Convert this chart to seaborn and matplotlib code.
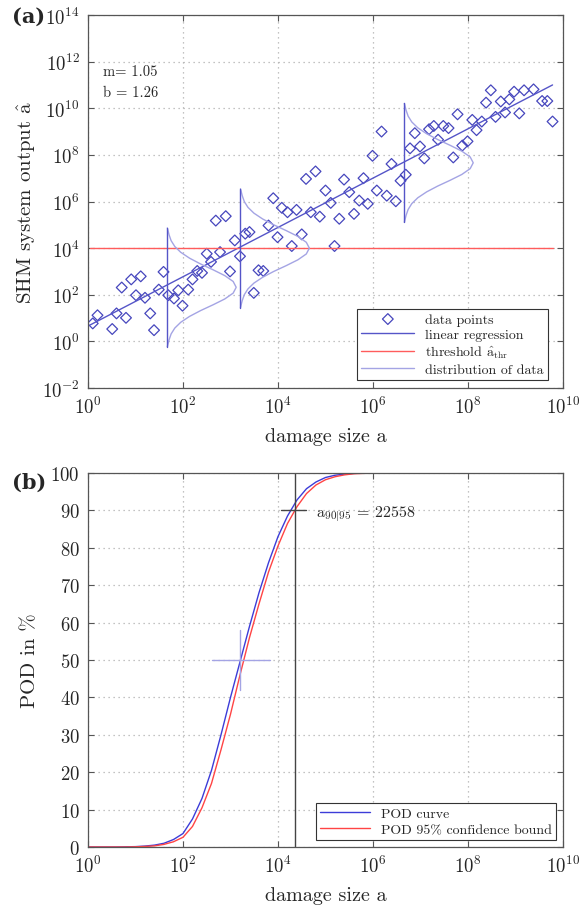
import numpy as np
import pandas as pd
import matplotlib
matplotlib.use('Agg')
import matplotlib.pyplot as plt
import seaborn as sns

# ---- data (log10 values) ----
log_a = [0.10, 0.20, 0.51, 0.60, 0.71, 0.80, 0.91, 1.01, 1.11, 1.20,
         1.31, 1.39, 1.49, 1.59, 1.69, 1.81, 1.90, 1.99, 2.11, 2.20,
         2.30, 2.40, 2.50, 2.59, 2.69, 2.78, 2.90, 2.99, 3.09, 3.20,
         3.31, 3.40, 3.49, 3.59, 3.69, 3.80, 3.90, 3.99, 4.08, 4.20,
         4.29, 4.39, 4.50, 4.59, 4.69, 4.79, 4.88, 5.00, 5.11, 5.19,
         5.29, 5.39, 5.50, 5.60, 5.71, 5.80, 5.89, 5.99, 6.08, 6.18,
         6.29, 6.39, 6.48, 6.58, 6.69, 6.78, 6.88, 6.99, 7.08, 7.18,
         7.28, 7.37, 7.48, 7.59, 7.69, 7.78, 7.88, 7.99, 8.09, 8.18,
         8.29, 8.38, 8.48, 8.58, 8.69, 8.78, 8.87, 8.97, 9.08, 9.18,
         9.38, 9.56, 9.67, 9.78]
log_ahat = [0.77, 1.12, 0.53, 1.20, 2.31, 1.01, 2.66, 1.98, 2.79, 1.87,
            1.20, 0.48, 2.22, 2.98, 1.98, 1.84, 2.19, 1.53, 2.22, 2.66,
            3.02, 2.94, 3.76, 3.41, 5.18, 3.83, 5.37, 3.00, 4.33, 3.65,
            4.62, 4.69, 2.08, 3.05, 3.02, 4.97, 6.14, 4.47, 5.73, 5.54,
            4.09, 5.64, 4.59, 6.97, 5.54, 7.29, 5.35, 6.47, 5.94, 4.09,
            5.26, 6.94, 6.40, 5.47, 6.04, 7.00, 5.90, 7.96, 6.47, 9.00,
            6.25, 7.61, 6.01, 6.89, 7.15, 8.28, 8.93, 8.36, 7.85, 9.10,
            9.24, 8.65, 9.24, 9.15, 7.89, 9.74, 8.40, 8.58, 9.50, 9.06,
            9.43, 10.24, 10.77, 9.63, 10.29, 9.82, 10.38, 10.71, 9.78, 10.77,
            10.81, 10.31, 10.31, 9.43]

reg_log_a = [0.04, 9.78]
reg_log_ahat = [0.70, 11.00]
thr_log_ahat = 4.0

# distribution of data: three centres and one shared bell shape
dist_log_a = [1.67, 3.21, 6.66]
dist_log_mean = [2.32, 4.00, 7.66]
dist_dy = [-2.55, -2.25, -2.0, -1.75, -1.5, -1.25, -1.0, -0.75, -0.5, -0.25, 0.0,
           0.25, 0.5, 0.75, 1.0, 1.25, 1.5, 1.75, 2.0, 2.25, 2.55]
dist_w = [0.0, 0.037, 0.080, 0.157, 0.283, 0.467, 0.70, 0.964, 1.21, 1.386, 1.45,
          1.386, 1.21, 0.964, 0.70, 0.467, 0.283, 0.157, 0.080, 0.037, 0.0]

# POD curves
pod_log_a = [0.0, 0.2, 0.4, 0.6, 0.8, 1.0, 1.2, 1.4, 1.6, 1.8, 2.0, 2.2, 2.4, 2.6,
             2.8, 3.0, 3.2, 3.4, 3.6, 3.8, 4.0, 4.2, 4.4, 4.6, 4.8, 5.0, 5.2,
             5.4, 5.6, 5.8, 6.0, 6.4, 6.8, 7.2]
pod_curve = [0.0, 0.0, 0.0, 0.0, 0.05, 0.1, 0.25, 0.5, 1.0, 2.0, 3.6, 7.5, 13.0, 20.5,
             30.0, 40.0, 49.5, 59.0, 68.0, 76.0, 83.0, 88.5, 92.8, 95.8, 97.6, 98.8, 99.4,
             99.7, 99.9, 99.95, 100.0, 100.0, 100.0, 100.0]
pod_bound = [0.0, 0.0, 0.0, 0.0, 0.0, 0.05, 0.15, 0.3, 0.7, 1.4, 2.6, 5.5, 10.5, 17.0,
             26.0, 35.5, 46.0, 56.0, 65.0, 73.5, 80.5, 86.5, 91.0, 94.5, 96.8, 98.2, 99.0,
             99.5, 99.8, 99.9, 100.0, 100.0, 100.0, 100.0]
a50_log = 3.21
a50_bar = [2.60, 3.83]
a50_vbar = [42, 58]
a9095 = 22558
a9095_bar = [4.06, 4.59]

# ---- style ----
sns.set_style('ticks')
plt.rcParams['font.family'] = ['cmr10', 'DejaVu Serif']
plt.rcParams['mathtext.fontset'] = 'cm'
plt.rcParams['axes.formatter.use_mathtext'] = True
plt.rcParams['axes.unicode_minus'] = False

c_pts = '#4646bd'
c_reg = '#5555c8'
c_thr = '#ff5c5c'
c_dist = '#a4a4e4'
c_pod = '#3c3cd8'
c_bnd = '#ff4444'

fig = plt.figure(figsize=(5.82, 9.12), dpi=100)
ax1 = fig.add_axes([88 / 582, 1 - 389 / 912, 475 / 582, 373 / 912])
ax2 = fig.add_axes([88 / 582, 1 - 848 / 912, 475 / 582, 374 / 912])

def style_axes(ax):
    ax.grid(True, linestyle=(0, (1, 3)), color='#b0b0b0', linewidth=0.9)
    ax.set_axisbelow(True)
    for s in ax.spines.values():
        s.set_color('#555555')
        s.set_linewidth(0.9)
    ax.tick_params(which='both', direction='in', top=True, right=True,
                   length=4, width=0.8, color='#555555', labelsize=13.5, pad=6)
    ax.minorticks_off()

# ---- (a) ----
ax1.set_xscale('log')
ax1.set_yscale('log')
a = np.power(10.0, log_a)
ahat = np.power(10.0, log_ahat)
sns.scatterplot(x=a, y=ahat, marker='D', s=30, facecolors='none',
                edgecolor=c_pts, linewidth=0.9, ax=ax1, label='data points')
ax1.collections[-1].set_facecolor('none')

sns.lineplot(x=np.power(10.0, reg_log_a), y=np.power(10.0, reg_log_ahat),
             color=c_reg, linewidth=1.0, ax=ax1, label='linear regression')
sns.lineplot(x=np.power(10.0, reg_log_a), y=[10 ** thr_log_ahat] * 2,
             color=c_thr, linewidth=1.0, ax=ax1,
             label=r'threshold $\hat{\mathrm{a}}_{\mathrm{thr}}$')
for i, (xc, mu) in enumerate(zip(dist_log_a, dist_log_mean)):
    xs = np.power(10.0, xc + np.array(dist_w))
    ys = np.power(10.0, mu + np.array(dist_dy))
    sns.lineplot(x=xs, y=ys, sort=False, estimator=None, color=c_dist,
                 linewidth=1.0, ax=ax1,
                 label='distribution of data' if i == 0 else None)
    sns.lineplot(x=[10 ** xc] * 2, y=[10 ** (mu + dist_dy[0]), 10 ** (mu + dist_dy[-1])],
                 sort=False, estimator=None, color=c_reg, linewidth=1.0, ax=ax1)

ax1.set_xlim(1e0, 1e10)
ax1.set_ylim(1e-2, 1e14)
ax1.set_xticks([10.0 ** k for k in range(0, 11, 2)])
ax1.set_yticks([10.0 ** k for k in range(-2, 15, 2)])
style_axes(ax1)
ax1.set_xlabel('damage size a', fontsize=14.5, labelpad=7)
ax1.set_ylabel(r'SHM system output $\hat{\mathrm{a}}$', fontsize=15, labelpad=3)
ax1.text(10 ** 0.32, 10 ** 11.58, 'm= 1.05', fontsize=10.5, va='center')
ax1.text(10 ** 0.32, 10 ** 10.68, 'b = 1.26', fontsize=10.5, va='center')
h, l = ax1.get_legend_handles_labels()
leg = ax1.legend(h, l, loc='lower right', bbox_to_anchor=(1 - 15 / 475, 8 / 373),
                 fontsize=10, frameon=True, fancybox=False, framealpha=1,
                 edgecolor='#333333', borderaxespad=0, handlelength=3.8,
                 labelspacing=0.2, borderpad=0.3, scatterpoints=1)
leg.get_frame().set_linewidth(0.8)

# ---- (b) ----
ax2.set_xscale('log')
pa = np.power(10.0, pod_log_a)
sns.lineplot(x=pa, y=pod_curve, color=c_pod, linewidth=1.0, ax=ax2, label='POD curve')
sns.lineplot(x=pa, y=pod_bound, color=c_bnd, linewidth=1.0, ax=ax2,
             label='POD 95% confidence bound')
sns.lineplot(x=np.power(10.0, a50_bar), y=[50, 50], color=c_dist, linewidth=1.0, ax=ax2)
sns.lineplot(x=[10 ** a50_log] * 2, y=a50_vbar, sort=False, estimator=None,
             color=c_dist, linewidth=1.0, ax=ax2)
sns.lineplot(x=[a9095, a9095], y=[0, 100], sort=False, estimator=None,
             color='#444444', linewidth=1.0, ax=ax2)
sns.lineplot(x=np.power(10.0, a9095_bar), y=[90, 90], color='#444444',
             linewidth=1.0, ax=ax2)
ax2.text(10 ** 4.8, 89.5, r'$\mathrm{a}_{90|95}$ = 22558', fontsize=11.5, va='center')

ax2.set_xlim(1e0, 1e10)
ax2.set_ylim(0, 100)
ax2.set_xticks([10.0 ** k for k in range(0, 11, 2)])
ax2.set_yticks(range(0, 101, 10))
style_axes(ax2)
ax2.set_xlabel('damage size a', fontsize=14.5, labelpad=7)
ax2.set_ylabel('POD in %', fontsize=15, labelpad=8)
h, l = ax2.get_legend_handles_labels()
leg2 = ax2.legend(h[:2], l[:2], loc='lower right', bbox_to_anchor=(1 - 7 / 475, 7 / 374),
                  fontsize=10, frameon=True, fancybox=False, framealpha=1,
                  edgecolor='#333333', borderaxespad=0, handlelength=3.6,
                  labelspacing=0.2, borderpad=0.3)
leg2.get_frame().set_linewidth(0.8)

fig.text(12 / 582, 1 - 17 / 912, '(a)', fontsize=15, fontweight='bold', va='center',
         family=['DejaVu Serif'])
fig.text(12 / 582, 1 - 483 / 912, '(b)', fontsize=15, fontweight='bold', va='center',
         family=['DejaVu Serif'])

fig.savefig('out.png', dpi=100)
